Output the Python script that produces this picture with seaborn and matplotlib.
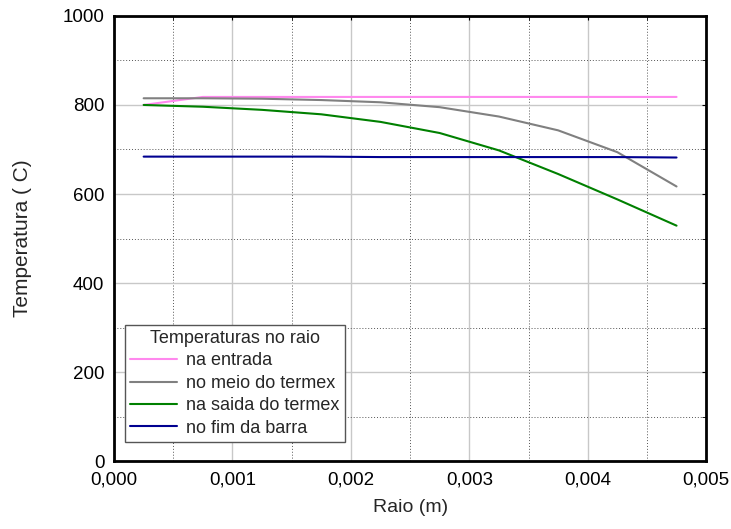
import numpy as np
import pandas as pd
import matplotlib
matplotlib.use("Agg")
import matplotlib.pyplot as plt
import seaborn as sns
from matplotlib.ticker import FuncFormatter, MultipleLocator

# data
raio = [0.00025, 0.00075, 0.00125, 0.00175, 0.00225, 0.00275, 0.00325, 0.00375, 0.00425, 0.00475]
na_entrada = [800, 818, 818, 818, 818, 818, 818, 818, 818, 818]
no_meio = [815, 815, 814, 811, 806, 795, 774, 743, 694, 617]
na_saida = [800, 796, 789, 779, 762, 737, 698, 645, 588, 529]
no_fim = [684, 684, 684, 684, 683, 683, 683, 683, 683, 682]

series_names = ["na entrada", "no meio do termex", "na saida do termex", "no fim da barra"]
cores = ["#ff88ee", "#808080", "#008000", "#000090"]

df = pd.concat([
    pd.DataFrame({"Raio": raio, "T": v, "serie": n})
    for n, v in zip(series_names, [na_entrada, no_meio, na_saida, no_fim])
])

sns.set_style("white")
plt.rcParams["font.family"] = ["Liberation Sans", "DejaVu Sans"]

fig, ax = plt.subplots(figsize=(7.31, 5.29), dpi=100)
sns.lineplot(data=df, x="Raio", y="T", hue="serie", hue_order=series_names,
             palette=cores, linewidth=1.5, ax=ax)

ax.set_xlim(0, 0.005)
ax.set_ylim(0, 1000)
ax.xaxis.set_major_locator(MultipleLocator(0.001))
ax.xaxis.set_minor_locator(MultipleLocator(0.0005))
ax.yaxis.set_major_locator(MultipleLocator(200))
ax.yaxis.set_minor_locator(MultipleLocator(100))
ax.xaxis.set_major_formatter(FuncFormatter(lambda v, p: f"{v:.3f}".replace(".", ",")))
ax.yaxis.set_major_formatter(FuncFormatter(lambda v, p: f"{v:.0f}"))

ax.grid(which="major", color="#c8c8c8", linestyle="-", linewidth=1)
ax.grid(which="minor", color="#555555", linestyle=(0, (1, 2)), linewidth=0.7)
ax.set_axisbelow(True)

for s in ax.spines.values():
    s.set_color("black")
    s.set_linewidth(2)

ax.tick_params(which="both", direction="in", top=True, right=True, length=3,
               labelsize=13.5, colors="black")
ax.tick_params(which="major", pad=7)

ax.set_xlabel("Raio (m)", fontsize=14, labelpad=8)
ax.set_ylabel("Temperatura ( C)", fontsize=15, labelpad=22)

leg = ax.legend(title="Temperaturas no raio", loc="lower left",
                bbox_to_anchor=(0.012, 0.035), fontsize=13, title_fontsize=13,
                fancybox=False, framealpha=1, edgecolor="#555555",
                borderpad=0.3, labelspacing=0.3, handlelength=2.6,
                handletextpad=0.5, borderaxespad=0.2)
leg.get_frame().set_linewidth(1)

fig.subplots_adjust(left=0.156, right=0.966, top=0.97, bottom=0.128)
fig.savefig("out.png", dpi=100)
